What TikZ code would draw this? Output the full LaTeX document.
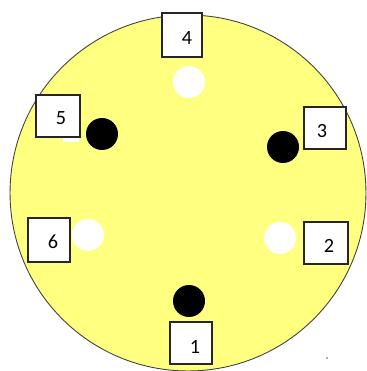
\documentclass[tikz,border=0pt]{standalone}
\usepackage{fontspec}
\setmainfont{Carlito}
\usetikzlibrary{positioning}
\definecolor{waferyellow}{RGB}{255,255,128}

\begin{document}
\begin{tikzpicture}[
    x=0.02cm, y=-0.02cm,
    font=\fontsize{11.5}{13}\selectfont,
    wafer/.style={circle, draw=black!75, fill=waferyellow, line width=0.5pt, minimum size=7.12cm, inner sep=0pt},
    hole/.style={circle, fill=white, minimum size=0.64cm, inner sep=0pt},
    pin/.style={circle, fill=black, minimum size=0.64cm, inner sep=0pt},
    numbox/.style={rectangle, draw=black!85, fill=white, line width=0.6pt, minimum width=0.84cm, minimum height=0.86cm, inner sep=0pt},
    numtxt/.style={inner sep=0pt}
]
\useasboundingbox (0,0) rectangle (366,371);

% 1. Wafer disc
\node[wafer] (disc) at (188,193) {};

% 2. Holes and pins
\node[hole] (h4) at (189,82) {};
\node[pin]  (p5) at (102,134) {};
\node[pin]  (p3) at (283,147) {};
\node[hole] (h6) at (88,235) {};
\node[hole] (h2) at (280,238) {};
\node[pin]  (p1) at (189,301) {};

% small leftover mark under box 5
\fill[white] (63,137) rectangle (79,142);
\node[circle, fill=black!60, minimum size=1pt, inner sep=0pt] (speck) at (327,358) {};

% 3. Number boxes
\node[numbox, minimum width=0.80cm, minimum height=0.88cm] (b4) at (182,35) {};
\node[numbox, minimum width=0.88cm, minimum height=0.84cm] (b5) at (58,116) {};
\node[numbox, minimum height=0.84cm] (b3) at (325,128) {};
\node[numbox, minimum height=0.88cm] (b6) at (49,240) {};
\node[numbox, minimum width=0.88cm, minimum height=0.84cm] (b2) at (326,243) {};
\node[numbox, minimum height=0.84cm] (b1) at (191,343) {};

% -- labels --
\node[numtxt] (t4) at (187,38) {4};
\node[numtxt] (t5) at (61,118) {5};
\node[numtxt] (t3) at (322,131) {3};
\node[numtxt] (t6) at (53,242) {6};
\node[numtxt] (t2) at (329,246) {2};
\node[numtxt] (t1) at (195,347) {1};

\end{tikzpicture}
\end{document}
